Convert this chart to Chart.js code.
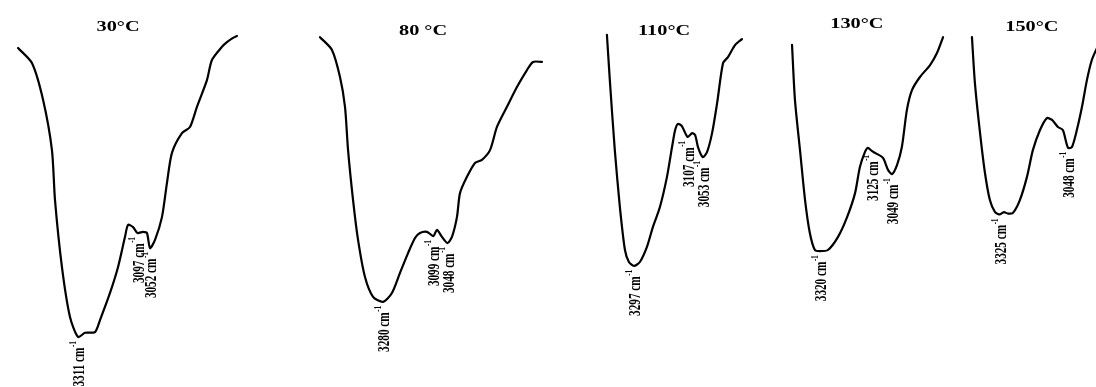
<!DOCTYPE html>
<html>
<head>
<meta charset="utf-8">
<script src="https://cdn.jsdelivr.net/npm/chart.js@4/dist/chart.umd.min.js"></script>
<style>
  html, body { margin: 0; padding: 0; background: #fff; width: 1096px; height: 387px; overflow: hidden; }
  .panel { position: absolute; top: 0; height: 387px; }
</style>
</head>
<body>
<div class="panel" style="left:5px;width:240px"><canvas id="c30"></canvas></div>
<div class="panel" style="left:300px;width:260px"><canvas id="c80"></canvas></div>
<div class="panel" style="left:590px;width:170px"><canvas id="c110"></canvas></div>
<div class="panel" style="left:775px;width:175px"><canvas id="c130"></canvas></div>
<div class="panel" style="left:955px;width:141px"><canvas id="c150"></canvas></div>
<script>
// Panel headings (sample temperature)
const titles = ['30°C', '80 °C', '110°C', '130°C', '150°C'];

// FTIR traces: wavenumber (cm-1) and transmittance (%)
const wn30 = [3527, 3477, 3437, 3405, 3394, 3369, 3340, 3311, 3286, 3250, 3232, 3196, 3167, 3142, 3131, 3113, 3097, 3077, 3063, 3052, 3034, 3009, 2991, 2973, 2937, 2908, 2883, 2847, 2829, 2793, 2775, 2753, 2739];
const t30  = [87.6, 83.7, 74.2, 61.2, 48.3, 31.0, 18.1, 12.9, 14.0, 14.2, 17.3, 24.3, 31.0, 38.8, 41.9, 41.3, 39.8, 40.1, 39.8, 35.9, 38.0, 43.9, 52.7, 60.5, 65.6, 67.2, 72.4, 79.3, 84.5, 87.9, 89.1, 90.2, 90.7];

const wn80 = [3507, 3464, 3435, 3417, 3406, 3388, 3370, 3345, 3316, 3280, 3248, 3219, 3190, 3165, 3147, 3122, 3099, 3086, 3068, 3048, 3032, 3014, 3003, 2978, 2949, 2924, 2895, 2870, 2834, 2798, 2762, 2740, 2708];
const t80  = [90.4, 87.1, 80.1, 72.4, 61.2, 48.3, 38.0, 28.4, 23.3, 22.0, 24.3, 29.5, 34.6, 38.5, 39.8, 40.1, 39.0, 40.6, 38.8, 37.2, 38.8, 43.9, 50.1, 54.3, 57.9, 58.7, 61.2, 67.2, 72.4, 77.5, 81.9, 84.0, 84.0];

const wn110 = [3393, 3382, 3365, 3347, 3329, 3315, 3297, 3276, 3251, 3230, 3205, 3180, 3162, 3151, 3141, 3127, 3107, 3091, 3080, 3070, 3053, 3038, 3020, 3002, 2981, 2963, 2938, 2914];
const t110  = [91.0, 78.6, 61.2, 46.5, 35.4, 32.3, 31.3, 32.3, 36.2, 41.3, 46.5, 54.3, 62.0, 66.4, 68.0, 67.4, 64.6, 65.6, 65.1, 62.0, 59.4, 60.7, 65.6, 73.4, 83.7, 85.3, 88.4, 89.9];

const wn130 = [3425, 3414, 3395, 3376, 3358, 3339, 3320, 3290, 3252, 3218, 3188, 3170, 3151, 3140, 3125, 3113, 3083, 3064, 3049, 3030, 3012, 2993, 2974, 2944, 2906, 2880, 2857];
const t130  = [88.4, 74.2, 61.2, 48.3, 39.8, 35.4, 35.1, 35.4, 38.8, 43.9, 50.1, 56.8, 60.7, 61.8, 61.0, 60.5, 59.2, 56.1, 55.0, 57.4, 62.0, 71.6, 76.7, 80.1, 83.2, 86.3, 90.4];

const wn150 = [3439, 3427, 3406, 3386, 3366, 3345, 3325, 3309, 3292, 3272, 3244, 3215, 3191, 3162, 3134, 3113, 3089, 3069, 3048, 3032, 3012, 2991, 2971, 2951, 2930, 2910];
const t150  = [90.4, 78.6, 65.6, 55.3, 48.3, 45.2, 44.6, 45.2, 44.8, 45.0, 48.3, 54.3, 61.2, 66.4, 69.5, 69.0, 67.2, 66.4, 61.8, 62.0, 66.4, 72.4, 79.3, 84.5, 87.6, 90.2];

// Band positions annotated on each trace (cm-1)
const peaks30  = [3311, 3097, 3052];
const peaks80  = [3280, 3099, 3048];
const peaks110 = [3297, 3107, 3053];
const peaks130 = [3320, 3125, 3049];
const peaks150 = [3325, 3048];

// Per-panel layout: visible wavenumber window and heading anchor
const panels = [
  { id: 'c30',  title: titles[0], wn: wn30,  t: t30,  peaks: peaks30,  hi: 3574, lo: 2710, titleWn: 3167, titleT: 92.8 },
  { id: 'c80',  title: titles[1], wn: wn80,  t: t80,  peaks: peaks80,  hi: 3579, lo: 2643, titleWn: 3136, titleT: 92.0 },
  { id: 'c110', title: titles[2], wn: wn110, t: t110, peaks: peaks110, hi: 3453, lo: 2850, titleWn: 3190, titleT: 92.0 },
  { id: 'c130', title: titles[3], wn: wn130, t: t130, peaks: peaks130, hi: 3489, lo: 2831, titleWn: 3181, titleT: 93.8 },
  { id: 'c150', title: titles[4], wn: wn150, t: t150, peaks: peaks150, hi: 3508, lo: 2934, titleWn: 3195, titleT: 92.8 }
];

// Draws the temperature heading and the rotated band labels
const bandLabels = {
  id: 'bandLabels',
  afterDatasetsDraw(chart, args, opts) {
    const { ctx, scales: { x, y } } = chart;
    ctx.save();
    ctx.fillStyle = '#000';

    // heading
    ctx.save();
    ctx.translate(x.getPixelForValue(opts.titleWn), y.getPixelForValue(opts.titleT));
    ctx.scale(1.45, 1);
    ctx.font = 'bold 14px "Liberation Serif", "DejaVu Serif", serif';
    ctx.textAlign = 'center';
    ctx.textBaseline = 'middle';
    ctx.fillText(opts.title, 0, 0);
    ctx.restore();

    // band labels, reading bottom-to-top beneath each marked point
    const mainFont = 'bold 16px "Liberation Serif", "DejaVu Serif", serif';
    const supFont = 'bold 10px "Liberation Serif", "DejaVu Serif", serif';
    const squeeze = 0.7;
    const gap = 4;
    opts.peaks.forEach(w => {
      const i = opts.wn.indexOf(w);
      const px = x.getPixelForValue(w);
      const py = y.getPixelForValue(opts.t[i]);
      const main = w + ' cm';
      const sup = '-1';
      ctx.font = mainFont;
      const wMain = ctx.measureText(main).width;
      ctx.font = supFont;
      const wSup = ctx.measureText(sup).width;
      const len = (wMain + wSup + 1) * squeeze;
      ctx.save();
      ctx.translate(px, py + gap + len);
      ctx.rotate(-Math.PI / 2);
      ctx.scale(squeeze, 1);
      ctx.textAlign = 'left';
      ctx.textBaseline = 'middle';
      ctx.font = mainFont;
      ctx.fillText(main, 0, 2);
      ctx.font = supFont;
      ctx.fillText(sup, wMain + 1, -5);
      ctx.restore();
    });
    ctx.restore();
  }
};

panels.forEach(p => {
  new Chart(document.getElementById(p.id), {
    type: 'line',
    data: {
      datasets: [{
        data: p.wn.map((w, i) => ({ x: w, y: p.t[i] })),
        borderColor: '#000',
        borderWidth: 2.2,
        borderJoinStyle: 'round',
        borderCapStyle: 'round',
        pointRadius: 0,
        tension: 0.25,
        fill: false
      }]
    },
    options: {
      animation: false,
      responsive: true,
      maintainAspectRatio: false,
      layout: { padding: 0 },
      events: [],
      plugins: {
        legend: { display: false },
        tooltip: { enabled: false },
        bandLabels: { title: p.title, titleWn: p.titleWn, titleT: p.titleT, peaks: p.peaks, wn: p.wn, t: p.t }
      },
      scales: {
        x: { type: 'linear', reverse: true, min: p.lo, max: p.hi, display: false },
        y: { type: 'linear', min: 0, max: 100, display: false }
      }
    },
    plugins: [bandLabels]
  });
});
</script>
</body>
</html>
